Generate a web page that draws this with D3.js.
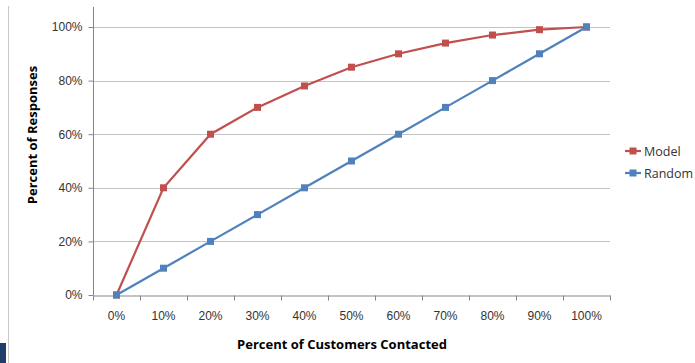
<!DOCTYPE html>
<html>
<head>
<meta charset="UTF-8" />
<script src="https://d3js.org/d3.v7.min.js"></script>
<style>
  body { margin: 0; background: #fff; }
  svg { display: block; font-family: "Open Sans", "Liberation Sans", sans-serif; }
</style>
</head>
<body>
<svg width="695" height="363"></svg>
<script>
  // categories and series
  const categories = ["0%", "10%", "20%", "30%", "40%", "50%", "60%", "70%", "80%", "90%", "100%"];
  const modelValues = [0, 40, 60, 70, 78, 85, 90, 94, 97, 99, 100];
  const randomValues = [0, 10, 20, 30, 40, 50, 60, 70, 80, 90, 100];
  const yTicks = [0, 20, 40, 60, 80, 100];

  const series = [
    { name: "Model", values: modelValues, color: "#c0504d" },
    { name: "Random", values: randomValues, color: "#4f81bd" }
  ];

  const svg = d3.select("svg");
  const plotLeft = 93, plotRight = 610, plotTop = 27, plotBottom = 295;

  const x = d3.scaleBand().domain(categories).range([plotLeft, plotRight]);
  const y = d3.scaleLinear().domain([0, 100]).range([plotBottom, plotTop]);

  // frame bits on the left edge
  svg.append("line")
    .attr("x1", 8.5).attr("x2", 8.5).attr("y1", 6).attr("y2", 363)
    .attr("stroke", "#c8c8c8").attr("stroke-width", 1);
  svg.append("rect")
    .attr("x", 0).attr("y", 343).attr("width", 6).attr("height", 20)
    .attr("fill", "#1f3d6b");

  // gridlines
  svg.append("g")
    .selectAll("line")
    .data(yTicks.filter(d => d > 0))
    .join("line")
    .attr("x1", plotLeft).attr("x2", plotRight)
    .attr("y1", d => Math.round(y(d)) + 0.5).attr("y2", d => Math.round(y(d)) + 0.5)
    .attr("stroke", "#c4c4c4");

  // y axis
  const yAxis = svg.append("g")
    .attr("transform", `translate(${plotLeft + 0.5},0)`)
    .call(d3.axisLeft(y).tickValues(yTicks).tickFormat(d => d + "%").tickSize(5).tickSizeOuter(0).tickPadding(6));
  yAxis.select(".domain").attr("d", `M0,7V${plotBottom}`);

  // x axis
  const xAxis = svg.append("g")
    .attr("transform", `translate(0,${plotBottom + 0.5})`)
    .call(d3.axisBottom(x).tickSize(0));
  xAxis.selectAll(".tick text").attr("dy", "1.75em");
  xAxis.selectAll(".tick line").remove();
  xAxis.append("g")
    .selectAll("line")
    .data(categories.concat(["end"]))
    .join("line")
    .attr("x1", (d, i) => Math.round(plotLeft + i * x.bandwidth()) + 0.5)
    .attr("x2", (d, i) => Math.round(plotLeft + i * x.bandwidth()) + 0.5)
    .attr("y1", 0).attr("y2", 5)
    .attr("stroke", "#868686");

  [yAxis, xAxis].forEach(a => {
    a.select(".domain").attr("stroke", "#868686");
    a.selectAll(".tick line").attr("stroke", "#868686");
    a.selectAll(".tick text").attr("fill", "#333").style("font-size", "12px");
  });

  // lines and markers
  const line = d3.line()
    .x((d, i) => x(categories[i]) + x.bandwidth() / 2)
    .y(d => y(d));

  series.forEach(s => {
    svg.append("path")
      .attr("d", line(s.values))
      .attr("fill", "none")
      .attr("stroke", s.color)
      .attr("stroke-width", 2.2);
    svg.append("g")
      .selectAll("rect")
      .data(s.values)
      .join("rect")
      .attr("x", (d, i) => x(categories[i]) + x.bandwidth() / 2 - 3.5)
      .attr("y", d => y(d) - 3.5)
      .attr("width", 7).attr("height", 7)
      .attr("fill", s.color);
  });

  // legend
  const legend = svg.append("g");
  series.forEach((s, i) => {
    const ly = 151 + i * 22;
    legend.append("line")
      .attr("x1", 625).attr("x2", 641).attr("y1", ly).attr("y2", ly)
      .attr("stroke", s.color).attr("stroke-width", 2.2);
    legend.append("rect")
      .attr("x", 629.5).attr("y", ly - 3.5).attr("width", 7).attr("height", 7)
      .attr("fill", s.color);
    legend.append("text")
      .attr("x", 644).attr("y", ly + 4.5)
      .attr("fill", "#333")
      .style("font-size", "12.5px")
      .text(s.name);
  });

  // axis titles
  svg.append("text")
    .attr("x", 342).attr("y", 349)
    .attr("text-anchor", "middle")
    .style("font-size", "13px").style("font-weight", "bold")
    .attr("fill", "#000")
    .text("Percent of Customers Contacted");

  svg.append("text")
    .attr("transform", "translate(37,135) rotate(-90)")
    .attr("text-anchor", "middle")
    .style("font-size", "13px").style("font-weight", "bold")
    .attr("fill", "#000")
    .text("Percent of Responses");
</script>
</body>
</html>
